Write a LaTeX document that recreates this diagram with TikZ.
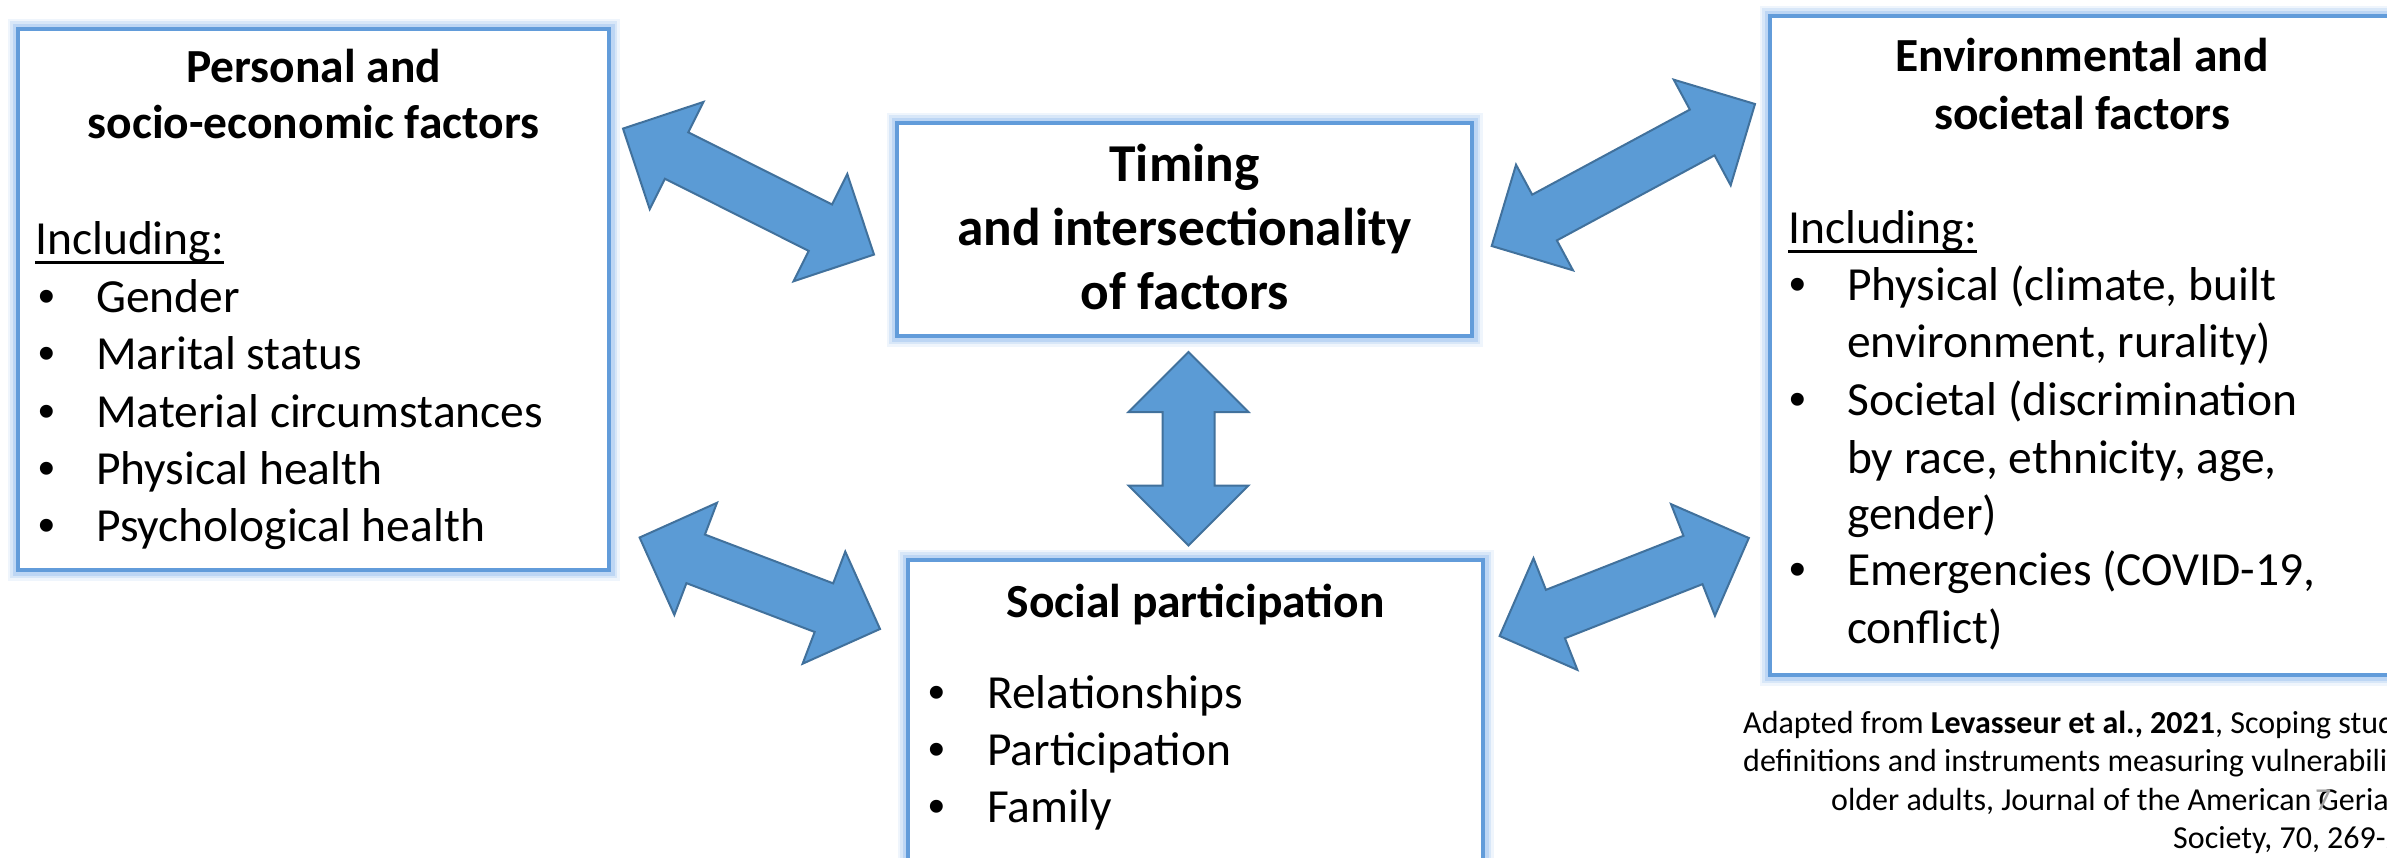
\documentclass[tikz,border=0pt]{standalone}
\usepackage{fontspec}
\setmainfont{Carlito}
\newfontfamily\bulletfont{Liberation Sans}
\usetikzlibrary{calc}

\definecolor{arrowblue}{RGB}{91,155,213}
\definecolor{arrowedge}{RGB}{65,113,156}
\definecolor{frameblue}{RGB}{98,156,218}
\definecolor{glowblue}{RGB}{150,190,240}
\definecolor{pagegrey}{RGB}{165,165,165}

% underlined word with a rule sized for large text
\newcommand\ulined[1]{\setbox0\hbox{#1}\rlap{\rule[-9.5pt]{\wd0}{2.6pt}}\box0}

% double-headed block arrow between two named points
\newcommand\dualarrow[2]{%
  \path ($(#1)!60pt!(#2)$) coordinate (#1h) ($(#2)!60pt!(#1)$) coordinate (#2h);
  \draw[blockarrow] (#1)
    -- ($(#1h)!60pt!90:(#1)$) -- ($(#1h)!26pt!90:(#1)$)
    -- ($(#2h)!26pt!-90:(#2)$) -- ($(#2h)!60pt!-90:(#2)$)
    -- (#2)
    -- ($(#2h)!60pt!90:(#2)$) -- ($(#2h)!26pt!90:(#2)$)
    -- ($(#1h)!26pt!-90:(#1)$) -- ($(#1h)!60pt!-90:(#1)$)
    -- cycle;}

\tikzset{
  panel/.style={draw=frameblue, line width=4pt, fill=white, inner sep=0pt,
    preaction={draw=glowblue, line width=21pt, draw opacity=0.15},
    preaction={draw=glowblue, line width=16pt, draw opacity=0.25},
    preaction={draw=glowblue, line width=11pt, draw opacity=0.4}},
  head/.style={font=\fontsize{47.5}{57}\selectfont\bfseries, anchor=base, inner sep=0pt},
  bighead/.style={font=\fontsize{53.3}{64}\selectfont\bfseries, anchor=base, inner sep=0pt},
  body/.style={font=\fontsize{47.5}{57}\selectfont, anchor=base west, inner sep=0pt},
  dot/.style={font=\fontsize{47.5}{57}\selectfont\bulletfont, anchor=base west, inner sep=0pt},
  cite/.style={font=\fontsize{32}{38.5}\selectfont, anchor=base west, inner sep=0pt},
  blockarrow/.style={fill=arrowblue, draw=arrowedge, line width=2pt, line join=miter},
}

\begin{document}
\begin{tikzpicture}[x=1pt, y=-1pt]
\useasboundingbox (0,0) rectangle (2387,857);
\fill[white] (0,0) rectangle (2387,857);
\clip (0,0) rectangle (2387,857);

% ---- frames ----
\node[panel, minimum width=591pt, minimum height=541pt] (personal) at (313.5,299.5) {};
\node[panel, minimum width=575pt, minimum height=213pt] (timing) at (1184.5,229.5) {};
\node[panel, minimum width=575pt, minimum height=340pt] (social) at (1195.5,730) {};
\node[panel, minimum width=650pt, minimum height=659pt] (environ) at (2095,345.5) {};

% ---- personal and socio-economic factors ----
\node[head] (p1) at (313.5,82) {Personal and};
\node[head] (p2) at (313.5,138) {socio-economic factors};
\node[body] (pinc) at (35,254.5) {\ulined{Including:}};
\foreach \y/\t [count=\i] in {312/Gender, 369/Marital status, 427/Material circumstances,
                               484/Physical health, 541.5/Psychological health} {
  \node[dot] (pb\i) at (38,\y) {•};
  \node[body] (pt\i) at (96,\y) {\t};
}

% ---- timing ----
\node[bighead] (t1) at (1184.5,181.6) {Timing};
\node[bighead] (t2) at (1184.5,245) {and intersectionality};
\node[bighead] (t3) at (1184.5,309) {of factors};

% ---- social participation ----
\node[head] (s0) at (1195.5,617.6) {Social participation};
\foreach \y/\t [count=\i] in {708.7/Relationships, 765/Participation, 822/Family} {
  \node[dot] (sb\i) at (928,\y) {•};
  \node[body] (st\i) at (987,\y) {\t};
}

% ---- environmental and societal factors ----
\node[head] (e1) at (2082,71.4) {Environmental and};
\node[head] (e2) at (2082,129.5) {societal factors};
\node[body] (einc) at (1788,243) {\ulined{Including:}};
\node[dot] (eb1) at (1789,300) {•};
\node[body] (et1) at (1847,300) {Physical (climate, built};
\node[body] (et1b) at (1847,357) {environment, rurality)};
\node[dot] (eb2) at (1789,415) {•};
\node[body] (et2) at (1847,415) {Societal (discrimination};
\node[body] (et2b) at (1847,473) {by race, ethnicity, age,};
\node[body] (et2c) at (1847,529) {gender)};
\node[dot] (eb3) at (1789,585) {•};
\node[body] (et3) at (1847,585) {Emergencies (COVID-19,};
\node[body] (et3b) at (1847,643) {conflict)};

% ---- reference note ----
\node[cite] (c1) at (1743,733) {Adapted from \textbf{Levasseur et al., 2021}, Scoping study of};
\node[cite] (c2) at (1743,771.5) {definitions and instruments measuring vulnerability in};
\node[cite] (c3) at (1831,810) {older adults, Journal of the American Geriatrics};
\node[cite] (c4) at (2173,848.5) {Society, 70, 269-280.};
\node[cite, text=pagegrey] (pg) at (2315,810) {7};

% ---- block arrows ----
\coordinate (ula) at (623,128.6);   \coordinate (ulb) at (874,254.6);
\coordinate (lla) at (639.6,537.5); \coordinate (llb) at (880,629);
\coordinate (ura) at (1491.7,246);  \coordinate (urb) at (1755,104);
\coordinate (lra) at (1499.6,636);  \coordinate (lrb) at (1748.8,538);
\coordinate (va) at (1188.5,352);   \coordinate (vb) at (1188.5,545.5);
\dualarrow{ula}{ulb}
\dualarrow{lla}{llb}
\dualarrow{ura}{urb}
\dualarrow{lra}{lrb}
\dualarrow{va}{vb}
\end{tikzpicture}
\end{document}
